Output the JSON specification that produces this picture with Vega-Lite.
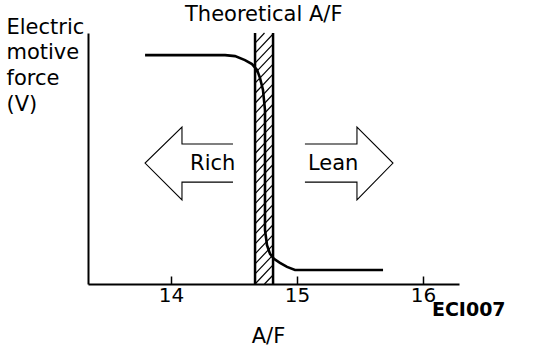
{
  "$schema": "https://vega.github.io/schema/vega-lite/v6.json",
  "width": 371,
  "height": 251,
  "autosize": {"type": "none"},
  "padding": {"left": 88, "top": 33, "right": 85, "bottom": 66},
  "background": "white",
  "config": {
    "view": {"stroke": null},
    "font": "DejaVu Sans",
    "text": {"font": "DejaVu Sans", "color": "black"}
  },
  "encoding": {
    "x": {
      "field": "af", "type": "quantitative",
      "scale": {"domain": [13.341, 16.286], "nice": false, "zero": false},
      "axis": {
        "values": [14, 15, 16], "format": "d",
        "grid": false, "tickSize": -8, "tickWidth": 1.5, "tickColor": "black",
        "domainColor": "black", "domainWidth": 2,
        "labelFont": "DejaVu Sans", "labelFontSize": 20, "labelColor": "black",
        "labelBaseline": "alphabetic", "labelPadding": 25,
        "title": "A/F", "titleFont": "DejaVu Sans", "titleFontSize": 21, "titleFontWeight": "normal",
        "titleColor": "black", "titleX": 180, "titleY": 58, "titleAlign": "center", "titleBaseline": "alphabetic"
      }
    },
    "y": {
      "field": "v", "type": "quantitative",
      "scale": {"domain": [0, 1], "nice": false, "zero": false},
      "axis": {
        "grid": false, "ticks": false, "labels": false,
        "domainColor": "black", "domainWidth": 2,
        "title": ["Electric", "motive", "force", "(V)"],
        "titleFont": "DejaVu Sans", "titleFontSize": 21, "titleFontWeight": "normal", "titleColor": "black",
        "titleAngle": 0, "titleAlign": "left", "titleBaseline": "alphabetic",
        "titleX": -82, "titleY": 0, "titleLineHeight": 25.7
      }
    }
  },
  "layer": [
    {
      "data": {"values": [
        {"af": 14.742, "v": 0.0, "af2": 14.810, "v2": 0.036},
        {"af": 14.667, "v": 0.00, "af2": 14.810, "v2": 0.076},
        {"af": 14.667, "v": 0.04, "af2": 14.810, "v2": 0.116},
        {"af": 14.667, "v": 0.08, "af2": 14.810, "v2": 0.156},
        {"af": 14.667, "v": 0.12, "af2": 14.810, "v2": 0.196},
        {"af": 14.667, "v": 0.16, "af2": 14.810, "v2": 0.236},
        {"af": 14.667, "v": 0.20, "af2": 14.810, "v2": 0.276},
        {"af": 14.667, "v": 0.24, "af2": 14.810, "v2": 0.316},
        {"af": 14.667, "v": 0.28, "af2": 14.810, "v2": 0.356},
        {"af": 14.667, "v": 0.32, "af2": 14.810, "v2": 0.396},
        {"af": 14.667, "v": 0.36, "af2": 14.810, "v2": 0.436},
        {"af": 14.667, "v": 0.40, "af2": 14.810, "v2": 0.476},
        {"af": 14.667, "v": 0.44, "af2": 14.810, "v2": 0.516},
        {"af": 14.667, "v": 0.48, "af2": 14.810, "v2": 0.556},
        {"af": 14.667, "v": 0.52, "af2": 14.810, "v2": 0.596},
        {"af": 14.667, "v": 0.56, "af2": 14.810, "v2": 0.636},
        {"af": 14.667, "v": 0.60, "af2": 14.810, "v2": 0.676},
        {"af": 14.667, "v": 0.64, "af2": 14.810, "v2": 0.716},
        {"af": 14.667, "v": 0.68, "af2": 14.810, "v2": 0.756},
        {"af": 14.667, "v": 0.72, "af2": 14.810, "v2": 0.796},
        {"af": 14.667, "v": 0.76, "af2": 14.810, "v2": 0.836},
        {"af": 14.667, "v": 0.80, "af2": 14.810, "v2": 0.876},
        {"af": 14.667, "v": 0.84, "af2": 14.810, "v2": 0.916},
        {"af": 14.667, "v": 0.88, "af2": 14.810, "v2": 0.956},
        {"af": 14.667, "v": 0.92, "af2": 14.810, "v2": 0.996},
        {"af": 14.667, "v": 0.96, "af2": 14.742, "v2": 1.0}
      ]},
      "mark": {"type": "rule", "color": "black", "strokeWidth": 1.2},
      "encoding": {
        "x2": {"field": "af2"},
        "y2": {"field": "v2"}
      }
    },
    {
      "data": {"values": [
        {"af": 14.667, "v": 0, "v2": 1},
        {"af": 14.810, "v": 0, "v2": 1}
      ]},
      "mark": {"type": "rule", "color": "black", "strokeWidth": 2.5},
      "encoding": {
        "y2": {"field": "v2"}
      }
    },
    {
      "data": {"values": [
        {"i": 1, "af": 13.794, "v": 0.912},
        {"i": 2, "af": 14.429, "v": 0.912},
        {"i": 3, "af": 14.508, "v": 0.908},
        {"i": 4, "af": 14.587, "v": 0.892},
        {"i": 5, "af": 14.643, "v": 0.876},
        {"i": 6, "af": 14.683, "v": 0.853},
        {"i": 7, "af": 14.706, "v": 0.821},
        {"i": 8, "af": 14.730, "v": 0.773},
        {"i": 9, "af": 14.746, "v": 0.693},
        {"i": 10, "af": 14.746, "v": 0.215},
        {"i": 11, "af": 14.762, "v": 0.155},
        {"i": 12, "af": 14.786, "v": 0.120},
        {"i": 13, "af": 14.817, "v": 0.100},
        {"i": 14, "af": 14.865, "v": 0.084},
        {"i": 15, "af": 14.921, "v": 0.068},
        {"i": 16, "af": 14.984, "v": 0.056},
        {"i": 17, "af": 15.683, "v": 0.056}
      ]},
      "mark": {"type": "line", "color": "black", "strokeWidth": 2.6},
      "encoding": {
        "order": {"field": "i", "type": "quantitative"}
      }
    },
    {
      "data": {"values": [
        {"arrow": "Rich", "i": 1, "af": 14.492, "v": 0.558},
        {"arrow": "Rich", "i": 2, "af": 14.087, "v": 0.558},
        {"arrow": "Rich", "i": 3, "af": 14.087, "v": 0.625},
        {"arrow": "Rich", "i": 4, "af": 13.794, "v": 0.482},
        {"arrow": "Rich", "i": 5, "af": 14.087, "v": 0.335},
        {"arrow": "Rich", "i": 6, "af": 14.087, "v": 0.406},
        {"arrow": "Rich", "i": 7, "af": 14.492, "v": 0.406},
        {"arrow": "Lean", "i": 1, "af": 15.063, "v": 0.558},
        {"arrow": "Lean", "i": 2, "af": 15.476, "v": 0.558},
        {"arrow": "Lean", "i": 3, "af": 15.476, "v": 0.625},
        {"arrow": "Lean", "i": 4, "af": 15.762, "v": 0.482},
        {"arrow": "Lean", "i": 5, "af": 15.476, "v": 0.335},
        {"arrow": "Lean", "i": 6, "af": 15.476, "v": 0.406},
        {"arrow": "Lean", "i": 7, "af": 15.063, "v": 0.406}
      ]},
      "mark": {"type": "line", "color": "black", "strokeWidth": 1.1},
      "encoding": {
        "detail": {"field": "arrow"},
        "order": {"field": "i", "type": "quantitative"}
      }
    },
    {
      "data": {"values": [
        {"af": 14.111, "v": 1.048, "label": "Theoretical A/F"},
        {"af": 14.151, "v": 0.454, "label": "Rich"},
        {"af": 15.087, "v": 0.454, "label": "Lean"}
      ]},
      "mark": {"type": "text", "align": "left", "baseline": "alphabetic", "fontSize": 21, "font": "DejaVu Sans", "color": "black"},
      "encoding": {
        "text": {"field": "label"}
      }
    },
    {
      "data": {"values": [
        {"af": 16.071, "v": -0.127, "label": "ECI007"}
      ]},
      "mark": {"type": "text", "align": "left", "baseline": "alphabetic", "fontSize": 19, "fontWeight": "bold", "font": "DejaVu Sans", "color": "black"},
      "encoding": {
        "text": {"field": "label"}
      }
    }
  ]
}
